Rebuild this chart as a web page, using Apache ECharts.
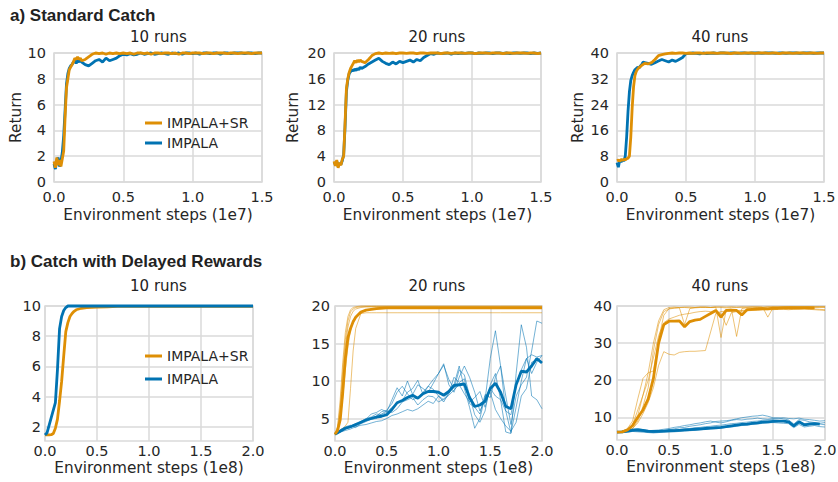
<!DOCTYPE html>
<html><head><meta charset="utf-8">
<script src="https://cdn.jsdelivr.net/npm/echarts@6/dist/echarts.min.js"></script>
<style>html,body{margin:0;padding:0;background:#fff}#c{width:838px;height:482px}</style>
</head><body><div id="c"></div>
<script>
// ---------- DATA ----------
// top row x (1e7 steps)
const xTop = [0,0.01,0.02,0.03,0.04,0.05,0.06,0.07,0.08,0.09,0.10,0.11,0.12,0.13,0.14,0.15,0.16,0.17,0.18,0.19,0.20,
  0.225,0.25,0.275,0.30,0.325,0.35,0.375,0.40,0.425,0.45,0.475,0.50,
  0.525,0.55,0.575,0.60,0.625,0.65,0.675,0.70,0.725,0.75,0.775,0.80,0.825,0.85,0.875,0.90,0.925,0.95,0.975,1.00,
  1.025,1.05,1.075,1.10,1.125,1.15,1.175,1.20,1.225,1.25,1.275,1.30,1.325,1.35,1.375,1.40,1.425,1.45,1.475,1.50];

// a) Standard Catch, 10 runs
const a10_sr = [1.6,1.1,1.9,1.3,1.7,1.2,1.8,2.4,5.0,7.3,8.0,8.7,8.9,9.1,9.3,9.6,9.5,9.7,9.5,9.6,9.4,
  9.5,9.7,9.9,10.0,9.95,10.0,9.9,10.0,9.95,10.0,9.95,10.0,
  9.95,10.0,9.9,10.0,10.0,9.95,10.0,9.9,10.0,10.0,9.95,10.0,10.0,9.95,10.0,9.9,10.0,10.0,9.95,10.0,
  10.0,10.0,9.95,10.0,10.0,9.95,10.0,10.0,10.0,9.95,10.0,10.0,9.95,10.0,10.0,10.0,9.95,10.0,10.0,10.0];
const a10_im = [1.4,1.0,1.6,1.9,1.2,1.6,2.3,3.6,5.6,7.6,8.4,8.8,9.0,9.1,9.3,9.4,9.2,9.4,9.3,9.5,9.3,
  9.1,9.0,9.2,9.4,9.5,9.3,9.6,9.4,9.5,9.6,9.8,9.9,
  9.85,9.95,9.85,9.9,10.0,9.9,9.95,10.0,9.9,9.95,10.0,9.95,9.9,10.0,9.95,10.0,9.9,10.0,10.0,9.95,
  10.0,9.9,10.0,10.0,9.95,10.0,10.0,9.9,10.0,10.0,9.95,10.0,10.0,10.0,9.95,10.0,10.0,9.95,10.0,10.0];

// a) Standard Catch, 20 runs
const a20_sr = [3.2,2.5,3.4,2.2,3.0,2.6,3.5,4.0,9.0,14.5,16.0,17.0,17.6,18.0,18.4,18.8,18.5,18.9,18.6,18.9,18.7,
  18.5,19.0,19.6,19.9,20.0,19.9,20.0,19.95,20.0,19.9,20.0,20.0,
  19.95,20.0,20.0,19.9,20.0,20.0,19.95,20.0,20.0,20.0,19.9,20.0,20.0,19.95,20.0,20.0,20.0,19.95,20.0,20.0,
  19.9,20.0,20.0,20.0,19.95,20.0,20.0,20.0,19.9,20.0,20.0,19.95,20.0,20.0,20.0,19.95,20.0,20.0,19.9,20.0];
const a20_im = [3.0,2.8,3.2,2.4,2.9,2.7,3.3,4.2,8.5,14.0,15.8,16.8,17.1,17.4,17.2,17.5,17.3,17.6,17.4,17.8,17.6,
  17.9,18.3,18.6,18.9,19.2,18.7,18.4,18.2,18.6,18.3,18.7,18.5,
  18.7,18.9,18.6,19.0,18.8,19.3,19.6,19.9,19.8,20.0,19.9,19.95,20.0,19.8,20.0,19.9,20.0,19.95,20.0,20.0,
  19.9,20.0,19.95,20.0,20.0,19.9,20.0,20.0,19.95,20.0,19.9,20.0,20.0,19.95,20.0,20.0,19.9,20.0,19.95,20.0];

// a) Standard Catch, 40 runs
const a40_sr = [6.6,6.8,6.5,7.0,6.7,7.0,6.9,7.2,7.4,8.0,14.0,23.0,29.5,33.0,34.3,35.0,35.5,35.8,36.2,36.5,36.8,
  36.6,37.0,38.0,39.2,39.5,39.7,39.9,40.0,39.9,40.0,40.0,39.9,
  40.0,39.9,40.0,40.0,39.9,40.0,40.0,40.0,39.9,40.0,40.0,40.0,39.8,40.0,40.0,39.9,40.0,40.0,40.0,39.9,
  40.0,40.0,40.0,39.9,40.0,40.0,39.8,40.0,40.0,40.0,39.9,40.0,40.0,40.0,39.9,40.0,40.0,39.9,40.0,40.0];
const a40_im = [6.0,4.6,6.8,6.2,7.0,6.5,8.0,14.0,22.0,28.0,31.5,33.0,34.0,34.8,35.2,35.6,35.4,36.0,36.5,37.2,37.0,
  36.8,36.5,37.0,37.5,38.0,37.6,37.2,37.8,37.4,38.0,38.6,39.8,
  39.9,40.0,39.9,39.7,40.0,39.8,39.9,40.0,39.9,40.0,40.0,39.9,40.0,40.0,39.9,40.0,40.0,39.9,40.0,40.0,
  40.0,39.9,40.0,40.0,40.0,39.9,40.0,40.0,39.9,40.0,40.0,40.0,39.9,40.0,40.0,40.0,39.9,40.0,40.0,40.0];

// b) Delayed Rewards, 10 runs (x in 1e8)
const xB10 = [0,0.02,0.04,0.06,0.08,0.10,0.12,0.14,0.16,0.18,0.20,0.22,0.24,0.26,0.28,0.30,0.35,0.40,0.50,0.60,0.70,0.80,1.0,1.2,1.4,1.6,1.8,2.0];
const b10_sr = [1.45,1.45,1.45,1.47,1.55,1.9,2.5,3.7,5.0,6.7,8.3,8.9,9.3,9.5,9.65,9.75,9.85,9.9,9.93,9.95,9.97,9.98,9.98,9.98,9.98,9.98,9.98,9.98];
const b10_im = [1.45,1.6,2.1,2.6,3.1,3.6,5.8,8.5,9.3,9.7,9.9,10.0,10.0,10.0,10.0,10.0,10.0,10.0,10.0,10.0,10.0,10.0,10.0,10.0,10.0,10.0,10.0,10.0];

// b) Delayed Rewards, 20 runs
const xB20o = [0,0.025,0.05,0.075,0.1,0.125,0.15,0.175,0.2,0.25,0.3,0.35,0.4,0.5,0.6,0.8,1.0,1.2,1.4,1.6,1.8,2.0];
const b20_sr_mean = [2.9,3.4,4.8,8.5,13.0,15.8,17.0,17.9,18.5,19.2,19.45,19.55,19.65,19.75,19.75,19.75,19.75,19.75,19.75,19.75,19.75,19.75];
const b20_sr_r1 = [2.9,4.0,7.5,12.5,16.5,18.6,19.5,19.8,19.9,20.0,20.0,20.0,20.0,20.0,20.0,20.0,20.0,20.0,20.0,20.0,20.0,20.0];
const b20_sr_r2 = [2.9,3.6,5.5,10.0,14.5,17.2,18.6,19.3,19.6,19.8,19.9,19.9,19.9,19.9,19.9,19.9,19.9,19.9,19.9,19.9,19.9,19.9];
const b20_sr_r3 = [2.9,3.3,4.8,7.8,11.5,14.6,16.8,18.0,18.6,19.0,19.1,19.1,19.1,19.1,19.1,19.1,19.1,19.1,19.1,19.1,19.1,19.1];
const b20_sr_r4 = [2.9,3.2,3.5,3.7,4.0,4.5,9.0,14.0,17.0,19.0,19.4,19.6,19.7,19.8,19.8,19.8,19.8,19.8,19.8,19.8,19.8,19.8];
const b20_sr_r5 = [2.9,3.8,6.5,11.5,15.5,18.0,19.2,19.6,19.8,19.9,19.9,19.9,19.9,19.9,19.9,19.9,19.9,19.9,19.9,19.9,19.9,19.9];
const xB20b = [0,0.05,0.1,0.15,0.2,0.25,0.3,0.35,0.4,0.45,0.5,0.55,0.6,0.65,0.7,0.75,0.8,0.85,0.9,0.95,1.0,
  1.05,1.1,1.15,1.2,1.25,1.3,1.35,1.4,1.45,1.5,1.55,1.6,1.65,1.7,1.75,1.8,1.85,1.9,1.95,2.0];
const b20_im_mean = [2.9,3.3,3.7,3.9,4.2,4.5,4.8,5.0,5.2,5.3,5.5,6.2,7.1,7.4,7.8,8.1,7.7,8.3,8.6,8.6,8.5,
  8.1,8.6,9.4,9.5,9.6,7.8,6.6,6.8,7.3,9.0,9.7,8.5,6.6,6.3,9.5,11.3,11.2,12.0,13.0,12.4];
const b20_im_r1 = [2.9,3.4,3.8,4.0,4.3,4.4,4.9,5.6,5.8,6.2,5.9,7.5,9.1,8.0,10.0,8.2,9.5,9.0,8.5,9.7,11.0,
  12.1,10.2,9.0,11.5,10.8,8.0,5.5,4.5,6.0,9.5,11.0,7.5,3.2,3.0,11.0,17.5,14.5,8.0,7.5,6.3];
const b20_im_r2 = [2.9,3.2,3.6,3.8,4.2,4.6,5.0,5.2,5.6,5.5,5.8,6.5,7.0,7.4,8.5,9.0,10.1,8.2,9.3,10.2,11.0,
  12.3,9.5,8.5,10.5,12.0,10.5,8.5,6.0,7.5,13.0,16.7,12.0,6.0,3.1,6.5,10.0,13.0,11.0,12.5,13.4];
const b20_im_r3 = [2.9,3.5,3.9,4.1,3.8,4.3,4.6,4.9,5.0,5.6,6.0,5.8,6.3,7.2,7.5,7.8,6.8,7.5,8.0,7.9,7.2,
  7.6,8.3,9.5,12.0,9.0,6.5,3.7,5.0,8.0,8.5,6.2,5.0,4.0,3.3,4.5,8.0,9.0,12.5,12.8,12.6];
const b20_im_r4 = [2.9,3.3,3.7,3.9,4.0,4.4,4.8,5.1,5.3,5.9,6.1,7.0,8.5,9.3,8.3,7.5,7.8,8.5,9.3,8.9,8.0,
  7.2,8.4,10.5,9.8,10.3,7.0,6.5,5.6,8.2,7.8,10.5,12.0,8.0,4.2,8.0,9.5,10.5,14.0,18.0,17.7];
const b20_im_r5 = [2.9,3.2,3.4,3.6,3.9,4.1,4.2,4.4,4.6,4.7,5.0,5.4,5.6,5.9,6.2,6.0,6.3,6.8,7.3,7.0,8.0,
  7.5,8.1,8.8,9.5,8.3,7.2,7.8,8.6,6.5,9.0,8.0,7.5,6.0,5.5,9.5,11.5,13.0,13.5,13.2,13.4];

// b) Delayed Rewards, 40 runs
const xB40 = [0,0.05,0.1,0.15,0.2,0.25,0.3,0.35,0.4,0.45,0.5,0.55,0.6,0.65,0.7,0.75,0.8,0.85,0.9,0.95,1.0,
  1.05,1.1,1.15,1.2,1.25,1.3,1.35,1.4,1.45,1.5,1.55,1.6,1.65,1.7,1.75,1.8,1.85,1.9,1.95,2.0];
const b40_sr_mean = [6.0,6.1,6.6,7.8,10.0,12.0,15.0,20.5,30.0,35.0,35.9,35.9,36.0,34.4,35.8,36.2,36.4,37.2,38.0,38.8,37.0,
  38.8,38.9,38.8,37.6,39.0,39.1,39.2,39.3,39.2,39.4,39.4,39.5,39.5,39.5,39.4,39.5,39.5,39.5];
const b40_sr_r1 = [6.0,6.2,7.0,9.0,15.0,20.5,22.0,22.5,31.0,37.5,39.3,39.5,39.6,39.6,39.5,39.6,39.7,39.7,39.6,39.7,39.8,
  39.7,39.8,39.7,39.8,39.7,39.8,39.8,39.7,39.8,39.8,39.8,39.8,39.8,39.8,39.8,39.8,39.8,39.8,39.8,39.8];
const b40_sr_r2 = [6.0,6.0,6.3,7.0,8.5,11.0,14.0,18.0,24.0,27.7,27.0,26.8,27.5,27.7,27.8,27.8,27.9,28.0,33.0,38.0,38.5,
  38.6,38.7,38.8,38.8,38.9,39.0,39.0,39.1,39.1,39.2,39.2,39.2,39.2,39.2,39.3,39.3,39.2,39.2,39.1,39.0];
const b40_sr_r3 = [6.0,6.1,6.4,7.5,10.5,16.0,22.0,30.0,36.0,39.0,39.6,39.7,39.6,39.7,39.7,39.6,39.7,39.7,39.6,39.7,31.5,
  39.0,39.2,31.8,39.3,39.5,39.5,39.6,39.6,39.7,39.7,39.7,39.7,39.8,39.8,39.8,39.8,39.8,39.8,39.8,39.8];
const b40_sr_r4 = [6.0,6.0,6.2,7.0,9.0,13.0,18.0,28.0,35.0,38.5,39.2,39.4,39.5,35.0,39.3,39.5,39.6,39.6,39.6,39.7,39.6,
  39.5,39.6,39.6,39.6,39.7,39.7,39.7,39.7,37.0,39.5,39.6,39.7,39.7,39.7,39.8,39.7,39.7,39.6,39.6,39.6];
const b40_sr_r5 = [6.0,6.1,6.6,8.0,12.0,16.0,20.0,26.0,32.0,35.5,36.5,37.0,37.5,37.8,38.0,38.3,38.5,38.6,38.5,38.7,38.0,
  34.8,38.2,38.5,38.6,38.7,38.8,38.8,38.9,39.0,39.0,39.1,39.1,39.0,39.1,39.2,39.2,39.1,39.0,38.9,38.8];
const b40_im_mean = [6.0,6.1,6.3,6.5,6.6,6.5,6.3,6.2,6.2,6.3,6.4,6.4,6.5,6.6,6.7,6.8,6.9,7.0,7.1,7.2,7.3,
  7.5,7.7,7.9,8.1,8.2,8.4,8.5,8.7,8.8,8.9,9.0,9.0,8.8,7.7,8.8,8.0,8.2,8.3,8.2];
const b40_im_r1 = [6.0,6.3,6.8,6.6,6.4,6.2,6.0,5.9,6.1,6.4,6.7,6.9,7.2,7.3,7.6,7.8,8.0,8.3,8.5,8.9,9.0,
  9.1,9.3,9.6,9.9,10.1,10.3,10.4,10.6,10.3,9.9,9.8,9.9,9.7,9.6,9.8,9.5,9.4,9.2,9.0,9.1];
const b40_im_r2 = [6.0,6.2,6.5,6.9,7.0,6.7,6.4,6.5,6.6,6.8,7.0,7.3,7.5,7.8,8.0,8.3,8.5,8.8,9.0,8.7,8.5,
  8.8,9.2,9.4,9.3,9.5,9.6,9.8,9.6,9.5,9.7,9.8,9.6,9.3,8.2,9.4,9.2,8.8,8.6,8.4,8.6];
const b40_im_r3 = [6.0,5.9,6.0,6.2,6.1,6.0,5.9,5.8,5.9,6.0,6.0,6.1,6.2,6.3,6.4,6.5,6.6,6.8,6.9,7.0,7.1,
  7.3,7.4,7.6,7.8,7.9,8.1,8.2,8.4,8.5,8.6,8.5,8.4,8.3,7.2,8.1,7.4,7.6,7.8,7.5,7.4];
const b40_im_r4 = [6.0,6.1,6.2,6.4,6.3,6.2,6.1,6.0,6.2,6.3,6.5,6.6,6.7,6.9,7.0,7.2,7.3,7.5,7.6,7.8,7.9,
  8.1,8.3,8.4,8.6,8.7,8.9,9.0,9.2,9.3,9.4,9.2,9.0,8.9,7.5,8.7,8.3,8.5,8.4,8.2,8.0];

// tick values
const yTicksB10 = [2,4,6,8,10];
const yTicksB20 = [5,10,15,20];
const yTicksB40 = [10,20,30,40];

// ---------- CHART ----------
const ORANGE = '#DE8F05', BLUE = '#0173B2';
const FONT = 'DejaVu Sans', TXT = '#262626', GRIDC = '#dadada';
const pairs = (xs, ys) => ys.map((y, i) => [xs[i], y]);

const grids = [
  {left:54, top:53, width:208, height:129},
  {left:334, top:53, width:207, height:129},
  {left:617, top:53, width:207, height:129},
  {left:45, top:306, width:208, height:135},
  {left:335, top:306, width:207, height:135},
  {left:617, top:306, width:208, height:134}
].map(g => Object.assign({show:true, borderColor:GRIDC, borderWidth:1.5, backgroundColor:'#fff', containLabel:false, outerBoundsMode:'none'}, g));

function xAx(i, max, name, margin, gap) {
  return {type:'value', gridIndex:i, min:0, max:max, interval:0.5,
    axisLine:{show:false}, axisTick:{show:false},
    splitLine:{show:true, lineStyle:{color:GRIDC, width:1.5}},
    axisLabel:{color:TXT, fontFamily:FONT, fontSize:14.5, margin:margin, formatter:v => v.toFixed(1)},
    name:name, nameLocation:'middle', nameGap:gap,
    nameTextStyle:{color:TXT, fontFamily:FONT, fontSize:15.3}};
}
function yAx(i, min, max, opts) {
  const o = {type:'value', gridIndex:i, min:min, max:max,
    axisLine:{show:false}, axisTick:{show:false},
    splitLine:{show:true, lineStyle:{color:GRIDC, width:1.5}},
    axisLabel:{color:TXT, fontFamily:FONT, fontSize:14.5, margin:opts.margin}};
  if (opts.interval) o.interval = opts.interval;
  if (opts.ticks) { o.axisTick.customValues = opts.ticks; o.axisLabel.customValues = opts.ticks; }
  if (opts.name) { o.name = opts.name; o.nameLocation = 'middle'; o.nameGap = opts.gap;
    o.nameTextStyle = {color:TXT, fontFamily:FONT, fontSize:15.3}; }
  return o;
}

const xAxis = [
  xAx(0, 1.5, 'Environment steps (1e7)', 7, 25),
  xAx(1, 1.5, 'Environment steps (1e7)', 7, 25),
  xAx(2, 1.5, 'Environment steps (1e7)', 7, 25),
  xAx(3, 2.0, 'Environment steps (1e8)', 2.5, 19),
  xAx(4, 2.0, 'Environment steps (1e8)', 2.5, 19),
  xAx(5, 2.0, 'Environment steps (1e8)', 2.5, 19)
];
const yAxis = [
  yAx(0, 0, 10, {interval:2, margin:8, name:'Return', gap:29}),
  yAx(1, 0, 20, {interval:4, margin:8, name:'Return', gap:34}),
  yAx(2, 0, 40, {interval:8, margin:8, name:'Return', gap:32}),
  yAx(3, 1.05, 10, {ticks:yTicksB10, margin:4}),
  yAx(4, 2.0, 20, {ticks:yTicksB20, margin:5}),
  yAx(5, 3.9, 40, {ticks:yTicksB40, margin:5})
];

function line(name, i, xs, ys, color, width, opacity, z) {
  return {type:'line', name:name, xAxisIndex:i, yAxisIndex:i, data:pairs(xs, ys),
    symbol:'none', showSymbol:false, clip:false, color:color, z:z || 2,
    itemStyle:{color:color},
    lineStyle:{color:color, width:width, opacity:opacity == null ? 1 : opacity},
    emphasis:{disabled:true}, animation:false};
}

const series = [
  line('IMPALA', 0, xTop, a10_im, BLUE, 2.8),
  line('IMPALA+SR', 0, xTop, a10_sr, ORANGE, 2.8),
  line('IMPALA', 1, xTop, a20_im, BLUE, 2.8),
  line('IMPALA+SR', 1, xTop, a20_sr, ORANGE, 2.8),
  line('IMPALA', 2, xTop, a40_im, BLUE, 2.8),
  line('IMPALA+SR', 2, xTop, a40_sr, ORANGE, 2.8),

  line('IMPALA+SR', 3, xB10, b10_sr, ORANGE, 2.8),
  line('IMPALA', 3, xB10, b10_im, BLUE, 2.8),

  line('sr run', 4, xB20o, b20_sr_r1, ORANGE, 1, 0.55),
  line('sr run', 4, xB20o, b20_sr_r2, ORANGE, 1, 0.55),
  line('sr run', 4, xB20o, b20_sr_r3, ORANGE, 1, 0.55),
  line('sr run', 4, xB20o, b20_sr_r4, ORANGE, 1, 0.55),
  line('sr run', 4, xB20o, b20_sr_r5, ORANGE, 1, 0.55),
  line('im run', 4, xB20b, b20_im_r1, BLUE, 1, 0.55),
  line('im run', 4, xB20b, b20_im_r2, BLUE, 1, 0.55),
  line('im run', 4, xB20b, b20_im_r3, BLUE, 1, 0.55),
  line('im run', 4, xB20b, b20_im_r4, BLUE, 1, 0.55),
  line('im run', 4, xB20b, b20_im_r5, BLUE, 1, 0.55),
  line('IMPALA', 4, xB20b, b20_im_mean, BLUE, 2.8, 1, 3),
  line('IMPALA+SR', 4, xB20o, b20_sr_mean, ORANGE, 2.8, 1, 3),

  line('sr run', 5, xB40, b40_sr_r1, ORANGE, 1, 0.55),
  line('sr run', 5, xB40, b40_sr_r2, ORANGE, 1, 0.55),
  line('sr run', 5, xB40, b40_sr_r3, ORANGE, 1, 0.55),
  line('sr run', 5, xB40, b40_sr_r4, ORANGE, 1, 0.55),
  line('sr run', 5, xB40, b40_sr_r5, ORANGE, 1, 0.55),
  line('im run', 5, xB40, b40_im_r1, BLUE, 1, 0.55),
  line('im run', 5, xB40, b40_im_r2, BLUE, 1, 0.55),
  line('im run', 5, xB40, b40_im_r3, BLUE, 1, 0.55),
  line('im run', 5, xB40, b40_im_r4, BLUE, 1, 0.55),
  line('IMPALA', 5, xB40, b40_im_mean, BLUE, 2.8, 1, 3),
  line('IMPALA+SR', 5, xB40, b40_sr_mean, ORANGE, 2.8, 1, 3)
];

const legendBase = {orient:'vertical', icon:'rect', itemWidth:17, itemHeight:3, selectedMode:false,
  data:['IMPALA+SR','IMPALA'], textStyle:{color:TXT, fontFamily:FONT, fontSize:14}};
const legend = [
  Object.assign({}, legendBase, {left:140, top:111, itemGap:6}),
  Object.assign({}, legendBase, {left:140, top:344, itemGap:9})
];

function txt(s, x, y, font, align) {
  return {type:'text', x:x, y:y, silent:true,
    style:{text:s, font:font, fill:'#222', align:align || 'center', verticalAlign:'middle'}};
}
const TF = '15px "DejaVu Sans"', HF = 'bold 17px "Liberation Sans"';
const graphic = [
  txt('a) Standard Catch', 10, 15, HF, 'left'),
  txt('b) Catch with Delayed Rewards', 10, 261, HF, 'left'),
  txt('10 runs', 158.5, 37, TF), txt('20 runs', 437, 37, TF), txt('40 runs', 720, 37, TF),
  txt('10 runs', 158.5, 286, TF), txt('20 runs', 437, 286, TF), txt('40 runs', 720, 286, TF)
];

const chart = echarts.init(document.getElementById('c'), null, {renderer:'svg', width:838, height:482});
chart.setOption({animation:false, backgroundColor:'#fff', grid:grids, xAxis:xAxis, yAxis:yAxis,
  series:series, legend:legend, graphic:graphic, tooltip:{show:false}});
</script></body></html>
